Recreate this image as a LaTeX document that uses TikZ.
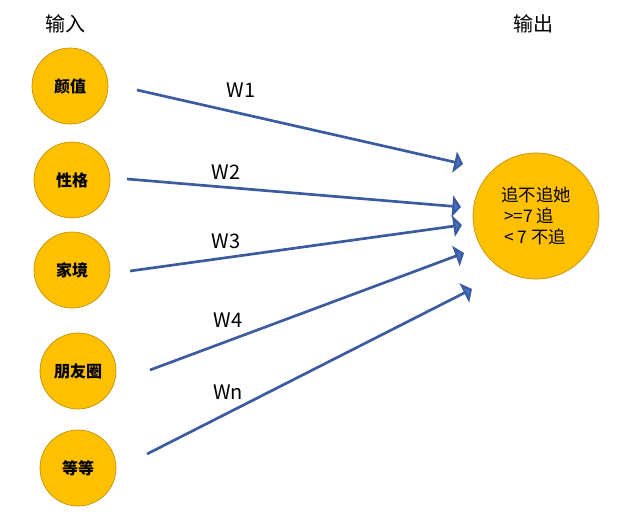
\documentclass[tikz,border=0pt]{standalone}
\usepackage{fontspec}
\setmainfont{Noto Sans CJK SC}
\usetikzlibrary{arrows.meta}
\definecolor{nodeyellow}{RGB}{255,192,0}
\definecolor{nodeedge}{RGB}{191,144,0}
\definecolor{wireblue}{RGB}{58,91,160}
\definecolor{tipblue}{RGB}{68,114,196}
\tikzset{
  unit/.style={circle, fill=nodeyellow, draw=nodeedge, line width=0.5pt, font=\fontsize{12}{14}\selectfont\bfseries, inner sep=0pt},
  wire/.style={draw=wireblue, line width=2pt, -{Triangle[length=6.5pt,width=16pt,fill=tipblue]}},
  weight/.style={font=\fontsize{15}{18}\selectfont},
  head/.style={font=\fontsize{15}{18}\selectfont}
}
\begin{document}
\begin{tikzpicture}[x=0.75pt, y=-0.75pt]
	\useasboundingbox (0,0) rectangle (630,513);
	\node[head] (in) at (65,24) {输入};
	\node[head] (out) at (533,24) {输出};
	% inputs
	\node[unit, minimum size=76*0.75pt] (a1) at (70,86) {颜值};
	\node[unit, minimum size=76*0.75pt] (a2) at (72,180) {性格};
	\node[unit, minimum size=76*0.75pt] (a3) at (72,270) {家境};
	\node[unit, minimum size=76*0.75pt] (a4) at (78,371) {朋友圈};
	\node[unit, minimum size=76*0.75pt] (a5) at (78,468) {等等};
	% output
	\node[unit, minimum size=126*0.75pt, font=\fontsize{13}{16}\selectfont, align=left] (res) at (536,216) {追不追她\\\,>=7 追\\\,< 7 不追};
	% weights
	\coordinate (s1) at (137,90);  \coordinate (t1) at (463,164);
	\coordinate (s2) at (127,179); \coordinate (t2) at (461,207);
	\coordinate (s3) at (130,271); \coordinate (t3) at (462,225);
	\coordinate (s4) at (150,370); \coordinate (t4) at (464,253);
	\coordinate (s5) at (147,454); \coordinate (t5) at (472,289);
	\draw[wire] (s1) -- (t1);
	\draw[wire] (s2) -- (t2);
	\draw[wire] (s3) -- (t3);
	\draw[wire] (s4) -- (t4);
	\draw[wire] (s5) -- (t5);
	\node[weight] (w1) at (241,90) {W1};
	\node[weight] (w2) at (226,172) {W2};
	\node[weight] (w3) at (226,241) {W3};
	\node[weight] (w4) at (228,320) {W4};
	\node[weight] (wn) at (228,392) {Wn};
\end{tikzpicture}
\end{document}
